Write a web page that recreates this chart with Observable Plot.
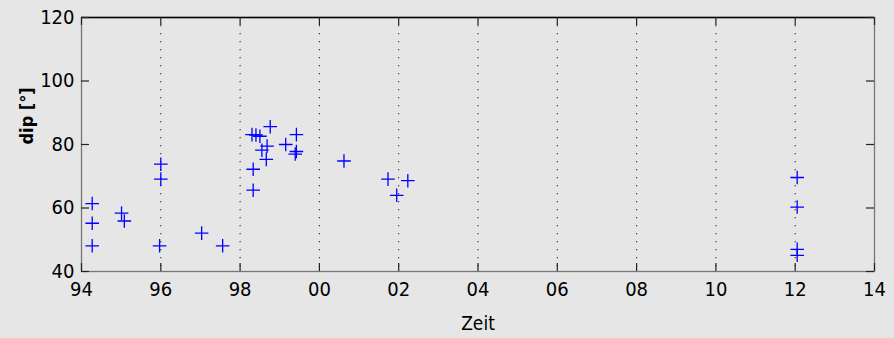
<!DOCTYPE html>
<html>
<head>
<meta charset="utf-8">
<script src="https://cdn.jsdelivr.net/npm/d3@7"></script>
<script src="https://cdn.jsdelivr.net/npm/@observablehq/plot@0.6"></script>
<style>
  html, body { margin: 0; padding: 0; background: #e6e6e6; }
</style>
</head>
<body>
<div id="chart"></div>
<script>
// Data (decimal year, dip in degrees)
const years = [
  1994.27, 1994.27, 1994.27,
  1995.01, 1995.08,
  1996.00, 1996.00, 1995.97,
  1997.03, 1997.56,
  1998.30, 1998.40, 1998.50, 1998.33, 1998.33,
  1998.76, 1998.55, 1998.68, 1998.66,
  1999.15, 1999.42, 1999.42, 1999.39,
  2000.62,
  2001.73, 2001.95, 2002.23,
  2012.05, 2012.05, 2012.05, 2012.05
];
const dips = [
  61.4, 55.2, 48.1,
  58.4, 55.9,
  73.8, 69.1, 48.1,
  52.1, 48.1,
  83.1, 83.0, 82.6, 72.2, 65.6,
  85.6, 78.2, 79.5, 75.3,
  80.0, 83.1, 77.8, 77.0,
  74.8,
  69.1, 64.0, 68.6,
  69.6, 60.3, 47.0, 45.1
];
const xTicks = [1994, 1996, 1998, 2000, 2002, 2004, 2006, 2008, 2010, 2012, 2014];
const yTicks = [40, 60, 80, 100, 120];
const xLabel = "Zeit";
const yLabel = "dip [°]";

const data = years.map((x, i) => ({year: x, dip: dips[i]}));

const W = 894, H = 338, mL = 81, mR = 20, mT = 17, mB = 67;
const fw = W - mL - mR, fh = H - mT - mB;

const plus = {
  draw(ctx, size) {
    const r = Math.sqrt(size / Math.PI);
    ctx.moveTo(-r, 0); ctx.lineTo(r, 0);
    ctx.moveTo(0, -r); ctx.lineTo(0, r);
  }
};

const font = '"Liberation Sans Narrow", "DejaVu Sans Condensed", "Liberation Sans", sans-serif';

const chart = Plot.plot({
  width: W, height: H,
  marginLeft: mL, marginRight: mR, marginTop: mT, marginBottom: mB,
  x: {domain: [1994, 2014]},
  y: {domain: [40, 120]},
  style: {background: "#e6e6e6", color: "#000", fontFamily: font, fontSize: "20px"},
  marks: [
    Plot.ruleX(xTicks.slice(1, -1), {stroke: "#222", strokeDasharray: "1.3,6.7", strokeWidth: 1}),
    Plot.frame({stroke: "#777", strokeWidth: 1.3}),
    Plot.ruleY([120], {stroke: "#000", strokeWidth: 1.6}),
    Plot.ruleX(xTicks, {insetTop: fh - 8, stroke: "#222", strokeWidth: 1.2}),
    Plot.ruleX(xTicks, {insetBottom: fh - 8, stroke: "#222", strokeWidth: 1.2}),
    Plot.ruleY(yTicks, {insetRight: fw - 8, stroke: "#222", strokeWidth: 1.2}),
    Plot.ruleY(yTicks, {insetLeft: fw - 8, stroke: "#222", strokeWidth: 1.2}),
    Plot.axisX(xTicks, {tickSize: 0, tickPadding: 10, label: null,
      tickFormat: d => String(d % 100).padStart(2, "0")}),
    Plot.axisY(yTicks, {tickSize: 0, tickPadding: 7, label: null}),
    Plot.dot(data, {x: "year", y: "dip", symbol: plus, r: 6.8,
      stroke: "#0000ff", fill: "none", strokeWidth: 1.3}),
    Plot.text([yLabel], {text: d => d, frameAnchor: "left", dx: -54, rotate: -90,
      fontWeight: "bold", fontSize: 18, fill: "#000"}),
    Plot.text([xLabel], {text: d => d, frameAnchor: "bottom", dy: 58,
      fontSize: 19, fill: "#000"})
  ]
});
document.getElementById("chart").appendChild(chart);
</script>
</body>
</html>
